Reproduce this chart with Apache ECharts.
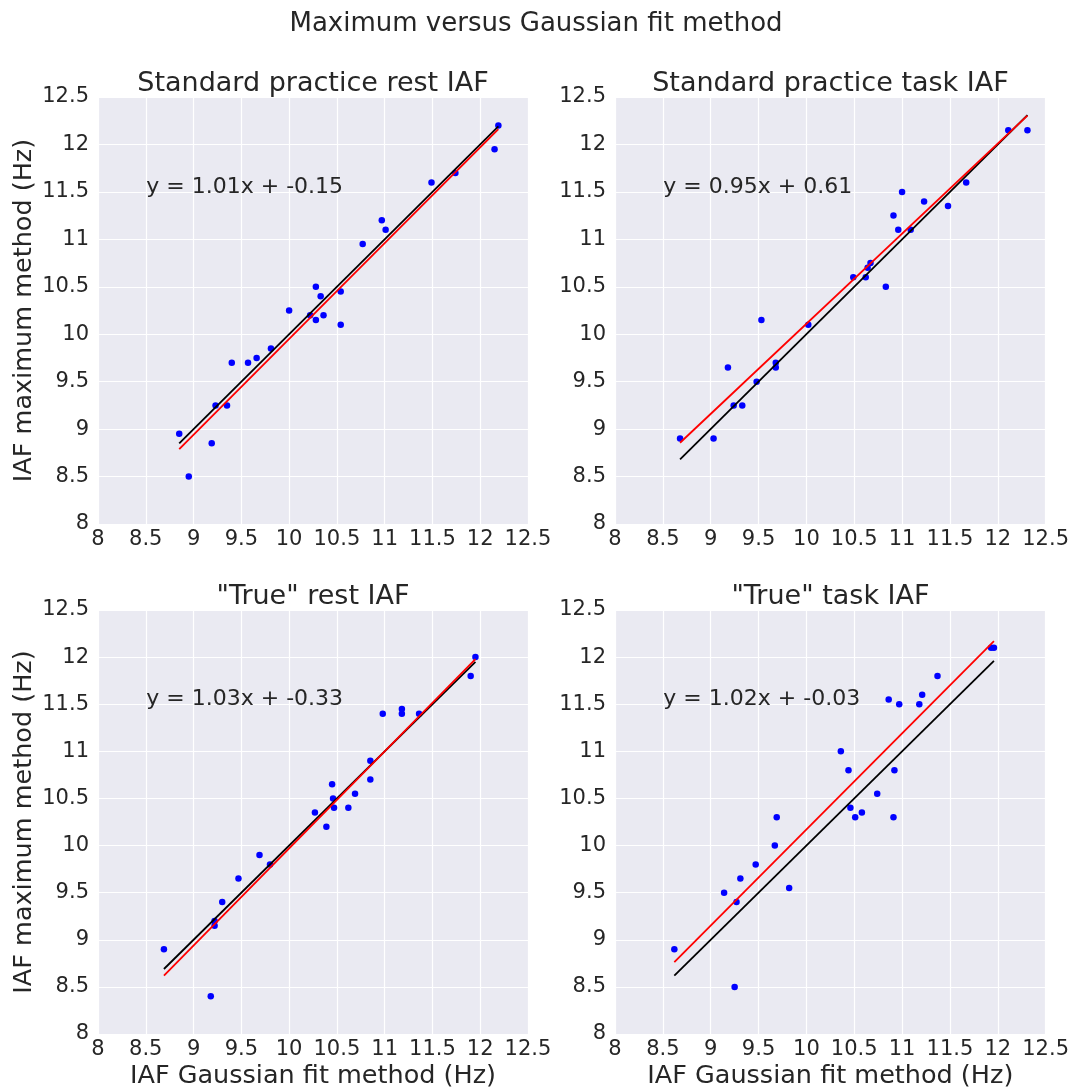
<!DOCTYPE html>
<html>
<head>
<meta charset="utf-8">
<title>Maximum versus Gaussian fit method</title>
<script src="https://cdn.jsdelivr.net/npm/echarts@6/dist/echarts.min.js"></script>
<style>
  html, body { margin: 0; padding: 0; background: #fff; }
  #chart { width: 1072px; height: 1090px; }
</style>
</head>
<body>
<div id="chart"></div>
<script>
// values
const mainTitle = 'Maximum versus Gaussian fit method'
const panelTitles = ['Standard practice rest IAF', 'Standard practice task IAF', '"True" rest IAF', '"True" task IAF']
const xName = 'IAF Gaussian fit method (Hz)'
const yName = 'IAF maximum method (Hz)'
const axisMin = 8
const axisMax = 12.5
const tickStep = 0.5

// panel 1: standard practice rest
const restStdX = [8.85, 8.95, 9.19, 9.23, 9.35, 9.40, 9.57, 9.66, 9.81, 10.00, 10.22, 10.28, 10.28, 10.33, 10.36, 10.54, 10.54, 10.77, 10.97, 11.01, 11.49, 11.74, 12.15, 12.19]
const restStdY = [8.95, 8.50, 8.85, 9.25, 9.25, 9.70, 9.70, 9.75, 9.85, 10.25, 10.20, 10.15, 10.50, 10.40, 10.20, 10.45, 10.10, 10.95, 11.20, 11.10, 11.60, 11.70, 11.95, 12.20]
// panel 2: standard practice task
const taskStdX = [8.68, 9.03, 9.18, 9.24, 9.33, 9.48, 9.53, 9.68, 9.68, 10.02, 10.49, 10.62, 10.64, 10.67, 10.83, 10.91, 10.96, 11.00, 11.09, 11.23, 11.48, 11.67, 12.11, 12.31]
const taskStdY = [8.90, 8.90, 9.65, 9.25, 9.25, 9.50, 10.15, 9.70, 9.65, 10.10, 10.60, 10.60, 10.70, 10.75, 10.50, 11.25, 11.10, 11.50, 11.10, 11.40, 11.35, 11.60, 12.15, 12.15]
// panel 3: "true" rest
const restTrueX = [8.69, 9.18, 9.22, 9.22, 9.30, 9.47, 9.69, 9.80, 10.27, 10.39, 10.45, 10.46, 10.47, 10.62, 10.69, 10.85, 10.85, 10.98, 11.18, 11.18, 11.36, 11.90, 11.95]
const restTrueY = [8.90, 8.40, 9.20, 9.15, 9.40, 9.65, 9.90, 9.80, 10.35, 10.20, 10.65, 10.50, 10.40, 10.40, 10.55, 10.70, 10.90, 11.40, 11.45, 11.40, 11.40, 11.80, 12.00]
// panel 4: "true" task
const taskTrueX = [8.62, 9.14, 9.25, 9.27, 9.31, 9.47, 9.67, 9.69, 9.82, 10.36, 10.44, 10.46, 10.51, 10.58, 10.74, 10.86, 10.91, 10.92, 10.97, 11.18, 11.21, 11.37, 11.93, 11.96]
const taskTrueY = [8.90, 9.50, 8.50, 9.40, 9.65, 9.80, 10.00, 10.30, 9.55, 11.00, 10.80, 10.40, 10.30, 10.35, 10.55, 11.55, 10.30, 10.80, 11.50, 11.50, 11.60, 11.80, 12.10, 12.10]

const fitSlopes = [1.01, 0.95, 1.03, 1.02]
const fitIntercepts = [-0.15, 0.61, -0.33, -0.03]
const fitTextAt = [8.5, 11.55]

const panelX = [restStdX, taskStdX, restTrueX, taskTrueX]
const panelY = [restStdY, taskStdY, restTrueY, taskTrueY]

const chart = echarts.init(document.getElementById('chart'))
const font = 'DejaVu Sans'
const ink = '#262626'

const grids = [
  { left: 98, top: 97, width: 430, height: 427 },
  { left: 615, top: 97, width: 431, height: 427 },
  { left: 98, top: 610, width: 430, height: 427 },
  { left: 615, top: 610, width: 431, height: 427 }
].map(g => Object.assign(g, { show: true, backgroundColor: '#EAEAF2', borderWidth: 0 }))

const titles = [{
  text: mainTitle,
  left: 'center',
  top: 11,
  padding: 0,
  textStyle: { fontFamily: font, fontSize: 26, fontWeight: 'normal', color: ink }
}]
panelTitles.forEach((t, i) => {
  const g = grids[i]
  titles.push({
    text: t,
    left: g.left + g.width / 2,
    top: g.top - 27,
    textAlign: 'center',
    padding: 0,
    textStyle: { fontFamily: font, fontSize: 27, fontWeight: 'normal', color: ink }
  })
})

const xAxes = []
const yAxes = []
const series = []
for (let i = 0; i < 4; i++) {
  const common = {
    type: 'value',
    gridIndex: i,
    min: axisMin,
    max: axisMax,
    interval: tickStep,
    axisLine: { show: false },
    axisTick: { show: false },
    splitLine: { show: true, lineStyle: { color: '#ffffff', width: 1.2 } },
    nameTextStyle: { fontFamily: font, fontSize: 25.5, color: ink }
  }
  xAxes.push(Object.assign({}, common, {
    name: i >= 2 ? xName : '',
    nameLocation: 'middle',
    nameGap: 29,
    axisLabel: { fontFamily: font, fontSize: 21, color: ink, margin: 5 }
  }))
  yAxes.push(Object.assign({}, common, {
    name: i % 2 === 0 ? yName : '',
    nameLocation: 'middle',
    nameGap: 61,
    axisLabel: { fontFamily: font, fontSize: 21, color: ink, margin: 9 }
  }))

  const xs = panelX[i]
  const ys = panelY[i]
  const lo = Math.min(...xs)
  const hi = Math.max(...xs)
  const a = fitSlopes[i]
  const b = fitIntercepts[i]

  series.push({
    type: 'scatter',
    xAxisIndex: i,
    yAxisIndex: i,
    symbolSize: 6.5,
    itemStyle: { color: '#0000FF', opacity: 1 },
    z: 2,
    data: xs.map((x, k) => [x, ys[k]])
  })
  series.push({
    type: 'line',
    xAxisIndex: i,
    yAxisIndex: i,
    symbol: 'none',
    lineStyle: { color: '#000000', width: 1.8 },
    z: 3,
    data: [[lo, lo], [hi, hi]]
  })
  series.push({
    type: 'line',
    xAxisIndex: i,
    yAxisIndex: i,
    symbol: 'none',
    lineStyle: { color: '#FF0000', width: 1.8 },
    z: 4,
    data: [[lo, a * lo + b], [hi, a * hi + b]]
  })
  series.push({
    type: 'scatter',
    xAxisIndex: i,
    yAxisIndex: i,
    symbolSize: 1,
    silent: true,
    itemStyle: { color: 'rgba(0,0,0,0)', opacity: 1 },
    z: 5,
    label: {
      show: true,
      position: 'right',
      distance: 0,
      fontFamily: font,
      fontSize: 22,
      color: ink,
      formatter: 'y = ' + a.toFixed(2) + 'x + ' + b.toFixed(2)
    },
    data: [fitTextAt]
  })
}

const option = {
  backgroundColor: '#ffffff',
  animation: false,
  title: titles,
  grid: grids,
  xAxis: xAxes,
  yAxis: yAxes,
  series: series
}
chart.setOption(option)
</script>
</body>
</html>
